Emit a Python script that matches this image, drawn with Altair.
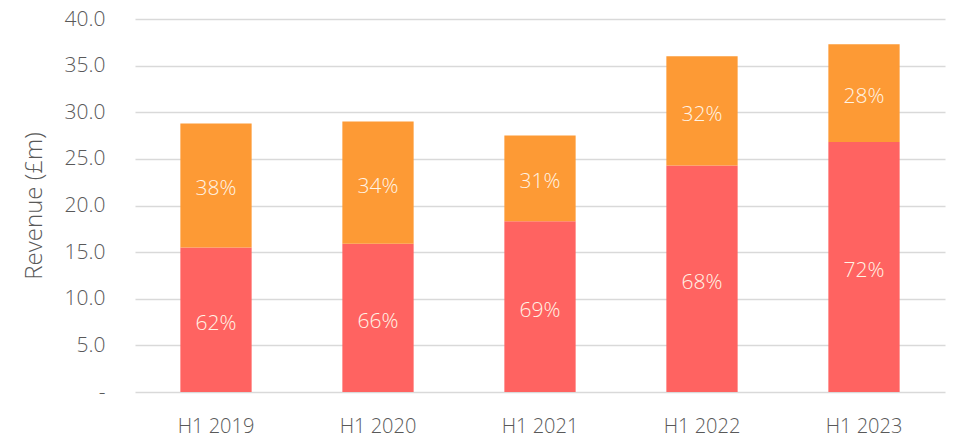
import altair as alt
import pandas as pd

periods = ["H1 2019", "H1 2020", "H1 2021", "H1 2022", "H1 2023"]
lower_values = [15.5, 15.9, 18.3, 24.3, 26.8]
upper_values = [13.3, 13.1, 9.2, 11.7, 10.5]
lower_labels = ["62%", "66%", "69%", "68%", "72%"]
upper_labels = ["38%", "34%", "31%", "32%", "28%"]
y_ticks = [0, 5, 10, 15, 20, 25, 30, 35, 40]

rows = []
for i, p in enumerate(periods):
    rows.append(dict(period=p, series="lower", order=0, value=lower_values[i], label=lower_labels[i]))
    rows.append(dict(period=p, series="upper", order=1, value=upper_values[i], label=upper_labels[i]))
df = pd.DataFrame(rows)

FONT = "Open Sans"
GREY = "#595959"

base = alt.Chart(df).transform_stack(
    stack="value", groupby=["period"], as_=["y0", "y1"],
    sort=[alt.SortField("order", order="ascending")]
).transform_calculate(mid="(datum.y0 + datum.y1) / 2")

x = alt.X("period:N", sort=periods, title=None,
          scale=alt.Scale(paddingInner=0.56, paddingOuter=0.28),
          axis=alt.Axis(domain=False, ticks=False, labelAngle=0, labelFont=FONT,
                        labelFontSize=20, labelFontWeight=300, labelColor=GREY,
                        labelPadding=24))

y_scale = alt.Scale(domain=[0, 40], nice=False)
y_axis = alt.Axis(values=y_ticks, domain=False, ticks=False, grid=True,
                  gridColor="#D9D9D9", gridWidth=1.6, labelFlush=False,
                  labelExpr="datum.value == 0 ? '-' : format(datum.value, '.1f')",
                  labelFont=FONT, labelFontSize=21, labelFontWeight=300,
                  labelColor=GREY, labelPadding=30,
                  title="Revenue (£m)", titleFont=FONT, titleFontSize=24,
                  titleFontWeight=300, titleColor=GREY, titlePadding=18)

color = alt.Color("series:N", legend=None,
                  scale=alt.Scale(domain=["lower", "upper"], range=["#FF6361", "#FD9A35"]))

bars = base.mark_bar().encode(
    x=x,
    y=alt.Y("y1:Q", scale=y_scale, axis=y_axis),
    y2="y0:Q",
    color=color,
)

texts = base.mark_text(font=FONT, fontSize=21, fontWeight=300, color="#FFF4E6",
                       baseline="middle", align="center", dy=4).encode(
    x=alt.X("period:N", sort=periods),
    y=alt.Y("mid:Q", scale=y_scale),
    text="label:N",
)

chart = alt.layer(bars, texts).properties(
    width=810, height=373,
    autosize=alt.AutoSizeParams(type="none"),
    padding={"left": 127, "top": 11, "right": 4, "bottom": 47},
).configure_view(stroke=None)

chart.save("out.html", embed_options={"renderer": "svg", "actions": False})
